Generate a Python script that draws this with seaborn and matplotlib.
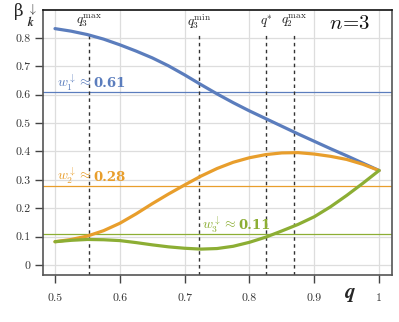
import matplotlib
matplotlib.use("Agg")
import matplotlib.pyplot as plt
import seaborn as sns
import pandas as pd

# ---- data ----
q = [0.5, 0.525, 0.55, 0.575, 0.6, 0.625, 0.65, 0.675, 0.7, 0.725, 0.75,
     0.775, 0.8, 0.825, 0.85, 0.875, 0.9, 0.925, 0.95, 0.975, 1.0]
beta1 = [0.833, 0.824, 0.812, 0.796, 0.776, 0.754, 0.730, 0.702, 0.670, 0.636, 0.603,
         0.572, 0.543, 0.516, 0.489, 0.462, 0.436, 0.410, 0.385, 0.359, 0.333]
beta2 = [0.082, 0.090, 0.102, 0.121, 0.147, 0.180, 0.216, 0.250, 0.282, 0.313, 0.340,
         0.362, 0.378, 0.389, 0.395, 0.396, 0.391, 0.383, 0.372, 0.355, 0.333]
beta3 = [0.082, 0.087, 0.090, 0.089, 0.086, 0.079, 0.071, 0.064, 0.059, 0.056, 0.058,
         0.066, 0.080, 0.098, 0.120, 0.143, 0.170, 0.205, 0.245, 0.288, 0.333]

w_values = [0.61, 0.28, 0.11]
w_names = [r"$w_1^{\downarrow}\approx$", r"$w_2^{\downarrow}\approx$", r"$w_3^{\downarrow}\approx$"]
w_numbers = ["0.61", "0.28", "0.11"]

vlines_q = [0.552, 0.722, 0.826, 0.869]
vlines_labels = [r"$q_3^{\mathrm{max}}$", r"$q_3^{\mathrm{min}}$", r"$q^{*}$", r"$q_2^{\mathrm{max}}$"]

xticks = [0.5, 0.6, 0.7, 0.8, 0.9, 1.0]
xticklabels = ["0.5", "0.6", "0.7", "0.8", "0.9", "1"]
yticks = [0, 0.1, 0.2, 0.3, 0.4, 0.5, 0.6, 0.7, 0.8]
yticklabels = ["0", "0.1", "0.2", "0.3", "0.4", "0.5", "0.6", "0.7", "0.8"]

series = ["k=1", "k=2", "k=3"]
colors = ["#5b7dbd", "#e89e2c", "#8cae34"]

df = pd.DataFrame({
    "q": q * 3,
    "beta": beta1 + beta2 + beta3,
    "k": [series[0]] * len(q) + [series[1]] * len(q) + [series[2]] * len(q),
})

# ---- style ----
sns.set_theme(style="whitegrid")
plt.rcParams["font.family"] = ["serif"]
plt.rcParams["font.serif"] = ["cmr10", "DejaVu Serif"]
plt.rcParams["mathtext.fontset"] = "cm"
plt.rcParams["axes.formatter.use_mathtext"] = True

fig = plt.figure(figsize=(3.99, 3.22), dpi=100)
ax = fig.add_axes([0.1078, 0.1475, 0.8747, 0.8215])

sns.lineplot(data=df, x="q", y="beta", hue="k", palette=colors, lw=2.3,
             legend=False, ax=ax, sort=False)

# horizontal reference lines
for v, c in zip(w_values, colors):
    ax.axhline(v, color=c, lw=0.9, zorder=1.5)

# dashed vertical lines
for xv in vlines_q:
    ax.plot([xv, xv], [-0.0335, 0.818], ls=(0, (2.5, 2.5)), color="#333333", lw=1.0, zorder=1.6)
for xv, lab in zip(vlines_q, vlines_labels):
    ax.text(xv, 0.889, lab, ha="center", va="top", fontsize=9.5, color="#222222")

ax.set_xlim(0.4815, 1.02)
ax.set_ylim(-0.0335, 0.8987)

# w labels: math name + bold number on the same baseline
label_pos = [(0.503, 0.627), (0.503, 0.297), (0.727, 0.127)]
name_texts = []
for (xp, yp), name, c in zip(label_pos, w_names, colors):
    name_texts.append(ax.text(xp, yp, name, color=c, fontsize=10, ha="left", va="baseline"))
fig.canvas.draw()
renderer = fig.canvas.get_renderer()
inv = ax.transData.inverted()
for t, (xp, yp), num, c in zip(name_texts, label_pos, w_numbers, colors):
    bb = t.get_window_extent(renderer=renderer)
    x_end = inv.transform((bb.x1 + 2, 0))[0]
    ax.text(x_end, yp, num, color=c, fontsize=9.5, fontweight="bold",
            fontfamily=["DejaVu Serif"], ha="left", va="baseline")

# n=3
ax.text(0.955, 0.848, r"$n\!=\!3$", fontsize=15, ha="center", va="center", color="#111111")

ax.set_xticks(xticks)
ax.set_xticklabels(xticklabels, fontsize=8.5, color="#333333")
ax.set_yticks(yticks)
ax.set_yticklabels(yticklabels, fontsize=8.5, color="#333333")
ax.tick_params(axis="both", which="both", direction="out", length=6, width=1.0,
               color="#444444", left=True, bottom=True)
ax.tick_params(axis="x", pad=8)
ax.tick_params(axis="y", pad=3)
ax.grid(True, color="#dddddd", lw=0.9)
for s in ax.spines.values():
    s.set_visible(True)
    s.set_color("#555555")
    s.set_linewidth(1.2)
ax.spines["top"].set_color("#111111")

ax.set_xlabel("")
ax.set_ylabel("")
fig.text(0.877, 0.083, r"$\mathbfit{q}$", fontsize=15, ha="center", va="center")
fig.text(0.035, 0.965, "β", fontsize=12, ha="left", va="center", fontfamily=["DejaVu Serif"])
fig.text(0.068, 0.952, r"$_{\mathbfit{k}}^{\downarrow}$", fontsize=12, ha="left", va="center")

fig.savefig("out.png", dpi=100)
